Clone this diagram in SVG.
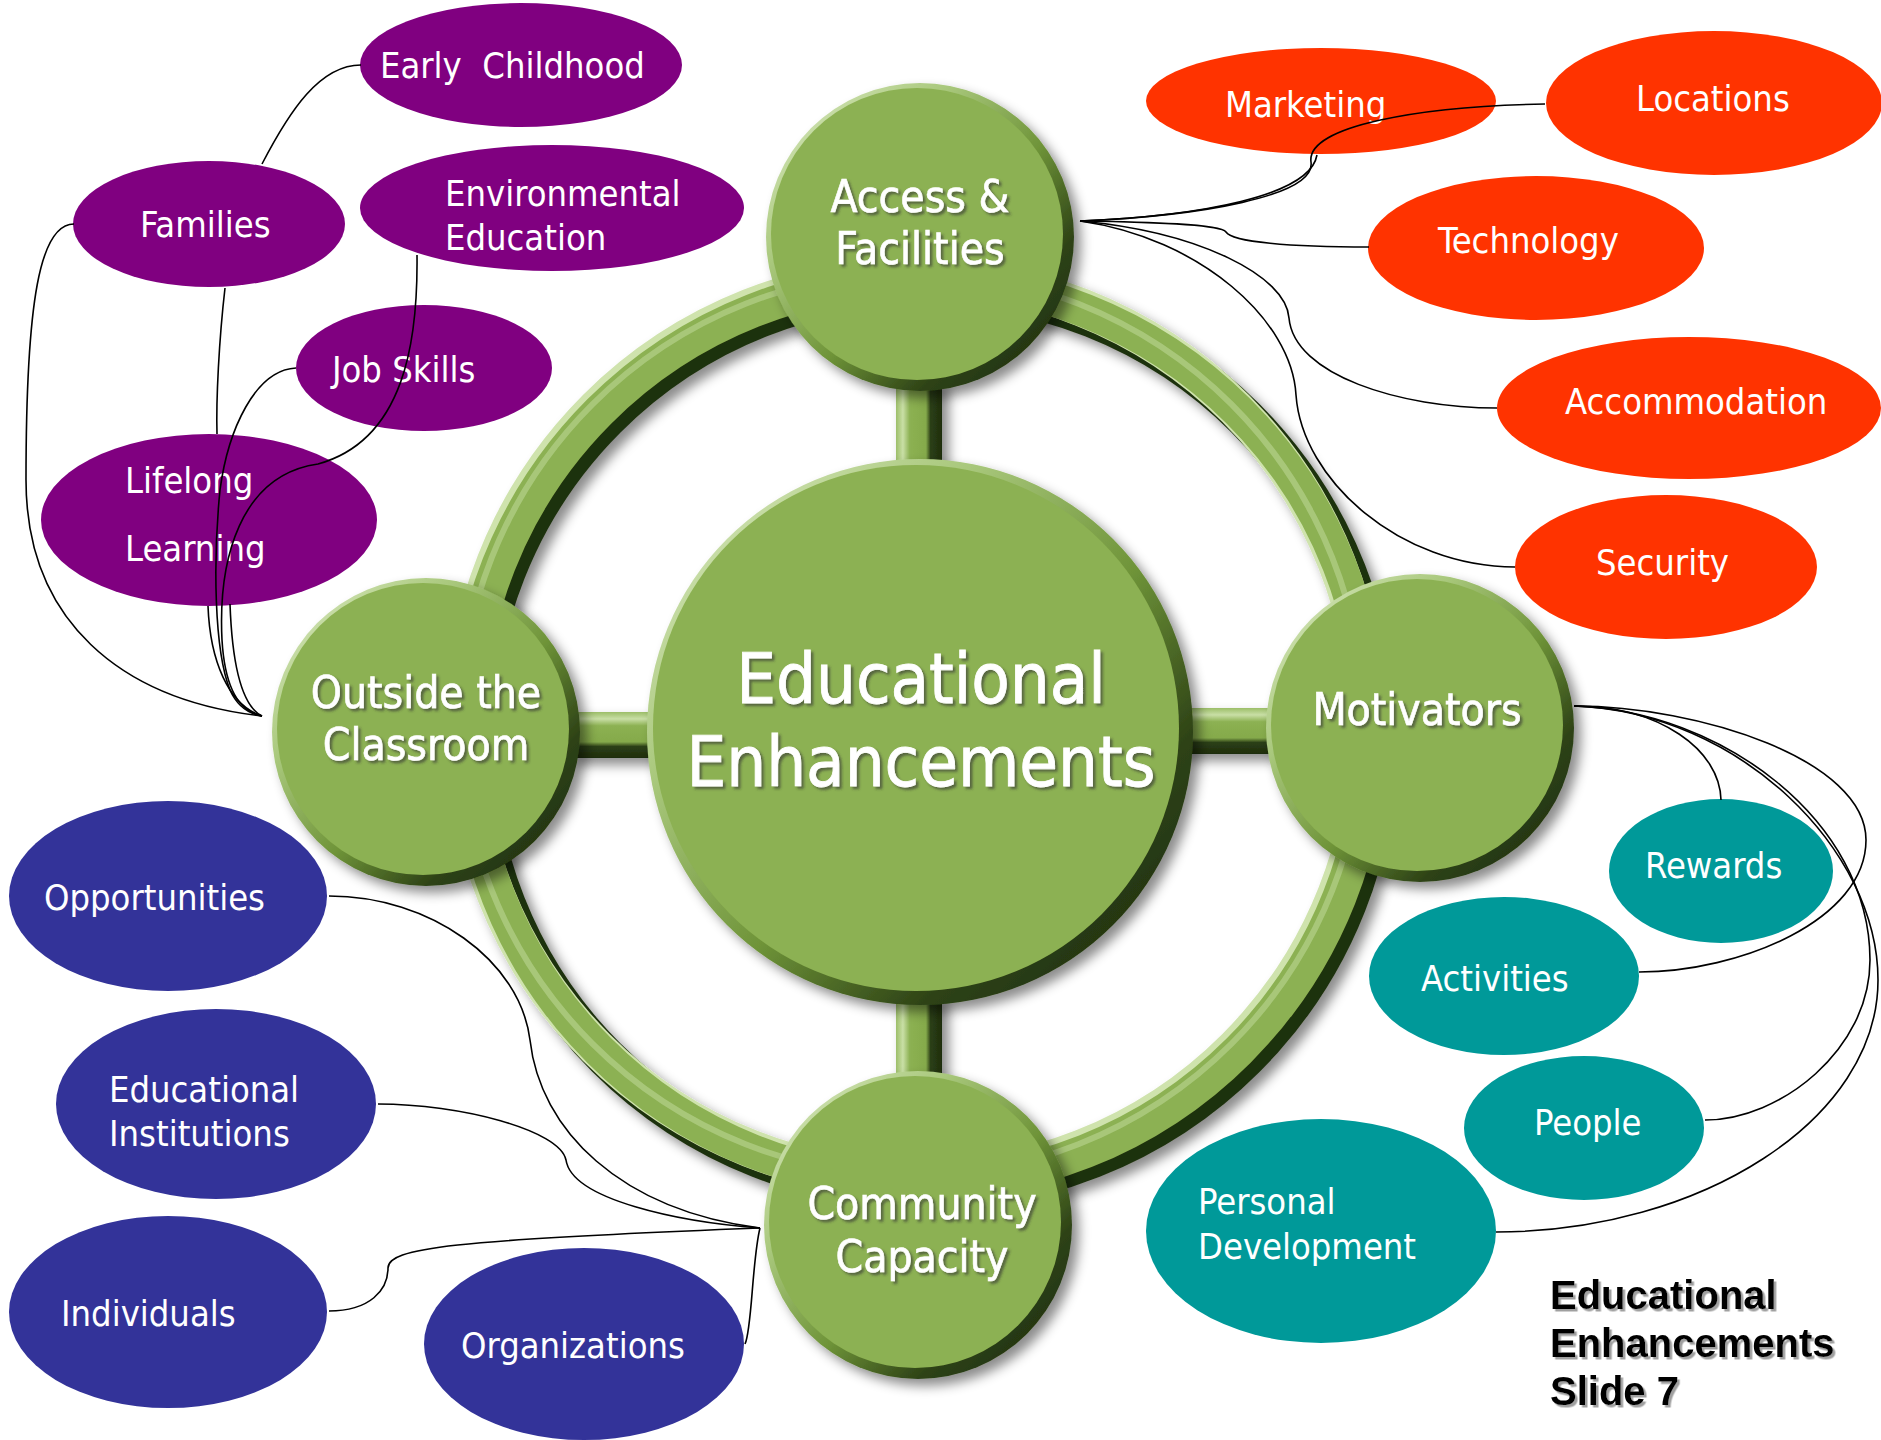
<svg xmlns="http://www.w3.org/2000/svg" xmlns:xlink="http://www.w3.org/1999/xlink" width="1881" height="1440" viewBox="0 0 1881 1440">
<style>
.lbl{font-family:'DejaVu Sans Condensed','DejaVu Sans',sans-serif;font-stretch:condensed;font-size:36px;fill:#fff}
.glbl{font-family:'DejaVu Sans Condensed','DejaVu Sans',sans-serif;font-stretch:condensed;font-size:44px;fill:#fff;text-anchor:middle;stroke:#fff;stroke-width:0.6}
.big{font-family:'DejaVu Sans Condensed','DejaVu Sans',sans-serif;font-stretch:condensed;font-size:70px;fill:#fff;text-anchor:middle;stroke:#fff;stroke-width:0.8}
.cap{font-family:'Liberation Sans',Arial,sans-serif;font-weight:bold;font-size:40px;fill:#000}
.con{fill:none;stroke:#000;stroke-width:1.6}
.pur{fill:#800080}.red{fill:#ff3300}.blu{fill:#333399}.tea{fill:#009999}
.rg{fill:none}
</style>
<defs>
<filter id="sh" x="-20%" y="-20%" width="140%" height="140%">
<feDropShadow dx="7" dy="7" stdDeviation="6" flood-color="#000" flood-opacity="0.45"/>
</filter>
<filter id="tsh" x="-10%" y="-20%" width="120%" height="150%">
<feDropShadow dx="2.5" dy="2.5" stdDeviation="0.8" flood-color="#333" flood-opacity="0.6"/>
</filter>
<filter id="csh" x="-10%" y="-20%" width="120%" height="150%">
<feDropShadow dx="2.5" dy="2.5" stdDeviation="0.6" flood-color="#888" flood-opacity="0.8"/>
</filter>
<linearGradient id="rim" x1="0" y1="0" x2="1" y2="1">
<stop offset="0" stop-color="#e2efcc"/>
<stop offset="0.3" stop-color="#a9c87c"/>
<stop offset="0.55" stop-color="#6e9338"/>
<stop offset="0.75" stop-color="#2e4316"/>
<stop offset="1" stop-color="#18260a"/>
</linearGradient>
<linearGradient id="vsp" x1="0" y1="0" x2="1" y2="0">
<stop offset="0" stop-color="#9cbe68"/>
<stop offset="0.15" stop-color="#c9dfa6"/>
<stop offset="0.3" stop-color="#8cb152"/>
<stop offset="0.65" stop-color="#85aa4b"/>
<stop offset="0.75" stop-color="#2c4015"/>
<stop offset="1" stop-color="#1e2d0e"/>
</linearGradient>
<linearGradient id="hsp" x1="0" y1="0" x2="0" y2="1">
<stop offset="0" stop-color="#9cbe68"/>
<stop offset="0.15" stop-color="#c9dfa6"/>
<stop offset="0.3" stop-color="#8cb152"/>
<stop offset="0.65" stop-color="#85aa4b"/>
<stop offset="0.75" stop-color="#2c4015"/>
<stop offset="1" stop-color="#1e2d0e"/>
</linearGradient>
<g id="sat">
<circle r="154" fill="url(#rim)"/>
<circle cx="-3" cy="-3" r="146" fill="#8cb152"/>
</g>
</defs>

<g id="hub-structure">
<g id="ring" filter="url(#sh)">
<circle class="rg" cx="926" cy="738" r="452" stroke="#1f300d" stroke-width="40"/>
<circle class="rg" cx="916" cy="728" r="452" stroke="#cfe3ad" stroke-width="38"/>
<circle class="rg" cx="919" cy="731" r="452" stroke="#8cb152" stroke-width="34"/>
<circle class="rg" cx="912" cy="724" r="452" stroke="#b3d08a" stroke-width="6" stroke-opacity="0.7"/>
</g>
<g id="spokes" filter="url(#sh)">
<rect x="896" y="380" width="46" height="92" fill="url(#vsp)"/>
<rect x="896" y="995" width="46" height="82" fill="url(#vsp)"/>
<rect x="570" y="712" width="90" height="46" fill="url(#hsp)"/>
<rect x="1180" y="708" width="92" height="46" fill="url(#hsp)"/>
</g>
</g>

<g id="node-center" filter="url(#sh)">
<circle cx="920" cy="732" r="273" fill="url(#rim)"/>
<circle cx="916" cy="728" r="263" fill="#8cb152"/>
</g>
<g id="node-access"><use xlink:href="#sat" href="#sat" x="920" y="237" filter="url(#sh)"/></g>
<g id="node-outside"><use xlink:href="#sat" href="#sat" x="426" y="732" filter="url(#sh)"/></g>
<g id="node-motivators"><use xlink:href="#sat" href="#sat" x="1420" y="728" filter="url(#sh)"/></g>
<g id="node-community"><use xlink:href="#sat" href="#sat" x="918" y="1225" filter="url(#sh)"/></g>

<g id="green-labels" filter="url(#tsh)">
<text class="big" x="921" y="703">Educational</text>
<text class="big" x="921" y="786">Enhancements</text>
<text class="glbl" x="920" y="212">Access &amp;</text>
<text class="glbl" x="920" y="264">Facilities</text>
<text class="glbl" x="426" y="708">Outside the</text>
<text class="glbl" x="426" y="760">Classroom</text>
<text class="glbl" x="1417" y="725">Motivators</text>
<text class="glbl" x="922" y="1219">Community</text>
<text class="glbl" x="922" y="1272">Capacity</text>
</g>

<g id="node-early"><ellipse class="pur" cx="521" cy="65" rx="161" ry="62"/><text class="lbl" x="380" y="78" xml:space="preserve">Early  Childhood</text></g>
<g id="node-families"><ellipse class="pur" cx="209" cy="224" rx="136" ry="63"/><text class="lbl" x="140" y="237">Families</text></g>
<g id="node-environmental"><ellipse class="pur" cx="552" cy="208" rx="192" ry="63"/><text class="lbl" x="445" y="206">Environmental</text><text class="lbl" x="445" y="250">Education</text></g>
<g id="node-jobskills"><ellipse class="pur" cx="424" cy="368" rx="128" ry="63"/><text class="lbl" x="332" y="382">Job Skills</text></g>
<g id="node-lifelong"><ellipse class="pur" cx="209" cy="520" rx="168" ry="86"/><text class="lbl" x="125" y="493">Lifelong</text><text class="lbl" x="125" y="561">Learning</text></g>

<g id="node-marketing"><ellipse class="red" cx="1321" cy="101" rx="175" ry="53"/><text class="lbl" x="1225" y="117">Marketing</text></g>
<g id="node-locations"><ellipse class="red" cx="1714" cy="103" rx="168" ry="72"/><text class="lbl" x="1636" y="111">Locations</text></g>
<g id="node-technology"><ellipse class="red" cx="1536" cy="248" rx="168" ry="72"/><text class="lbl" x="1438" y="253">Technology</text></g>
<g id="node-accommodation"><ellipse class="red" cx="1689" cy="408" rx="192" ry="71"/><text class="lbl" x="1565" y="414">Accommodation</text></g>
<g id="node-security"><ellipse class="red" cx="1666" cy="567" rx="151" ry="72"/><text class="lbl" x="1596" y="575">Security</text></g>

<g id="node-opportunities"><ellipse class="blu" cx="168" cy="896" rx="159" ry="95"/><text class="lbl" x="44" y="910">Opportunities</text></g>
<g id="node-institutions"><ellipse class="blu" cx="216" cy="1104" rx="160" ry="95"/><text class="lbl" x="109" y="1102">Educational</text><text class="lbl" x="109" y="1146">Institutions</text></g>
<g id="node-individuals"><ellipse class="blu" cx="168" cy="1312" rx="159" ry="96"/><text class="lbl" x="61" y="1326">Individuals</text></g>
<g id="node-organizations"><ellipse class="blu" cx="584" cy="1344" rx="160" ry="96"/><text class="lbl" x="461" y="1358">Organizations</text></g>

<g id="node-rewards"><ellipse class="tea" cx="1721" cy="871" rx="112" ry="72"/><text class="lbl" x="1645" y="878">Rewards</text></g>
<g id="node-activities"><ellipse class="tea" cx="1504" cy="976" rx="135" ry="79"/><text class="lbl" x="1421" y="991">Activities</text></g>
<g id="node-people"><ellipse class="tea" cx="1584" cy="1128" rx="120" ry="72"/><text class="lbl" x="1534" y="1135">People</text></g>
<g id="node-personal"><ellipse class="tea" cx="1321" cy="1231" rx="175" ry="112"/><text class="lbl" x="1198" y="1214">Personal</text><text class="lbl" x="1198" y="1259">Development</text></g>

<g id="connectors" class="con">
<path d="M1080,221 C1200,216 1310,196 1317,155"/>
<path d="M1080,221 C1200,216 1316,196 1311,162 C1306,126 1420,106 1545,104"/>
<path d="M1080,221 C1150,222 1220,224 1226,232 C1232,242 1290,247 1369,247"/>
<path d="M1080,221 C1200,232 1286,276 1289,318 C1294,375 1400,408 1497,408"/>
<path d="M1080,221 C1200,238 1292,320 1296,395 C1302,480 1400,567 1515,567"/>
<path d="M361,65 C320,65 290,110 262,164"/>
<path d="M225,288 C219,340 216,400 217,434"/>
<path d="M262,716 C120,700 26,620 26,480 C26,300 40,224 74,224"/>
<path d="M417,255 C418,340 405,440 318,464 C240,475 218,560 222,640 C225,690 240,712 262,716"/>
<path d="M296,368 C255,370 228,430 220,490 C213,560 214,650 230,690 C238,708 250,714 262,716"/>
<path d="M208,606 C210,660 228,705 262,716"/>
<path d="M230,604 C232,660 240,705 262,716"/>
<path d="M329,896 C430,896 520,960 530,1040 C540,1130 620,1210 760,1228"/>
<path d="M378,1104 C460,1104 560,1130 566,1160 C572,1200 680,1222 760,1228"/>
<path d="M329,1311 C370,1311 388,1290 388,1268 C388,1248 450,1240 760,1228"/>
<path d="M745,1344 C752,1330 752,1260 760,1228"/>
<path d="M1574,706 C1660,706 1720,750 1721,800"/>
<path d="M1574,706 C1700,706 1866,760 1866,840 C1866,920 1740,972 1639,972"/>
<path d="M1574,706 C1720,710 1870,820 1870,960 C1870,1050 1780,1120 1705,1120"/>
<path d="M1574,706 C1740,712 1878,850 1878,980 C1878,1120 1700,1232 1496,1232"/>
</g>

<g id="caption" filter="url(#csh)">
<text class="cap" x="1550" y="1309">Educational</text>
<text class="cap" x="1550" y="1357">Enhancements</text>
<text class="cap" x="1550" y="1405">Slide 7</text>
</g>
</svg>
